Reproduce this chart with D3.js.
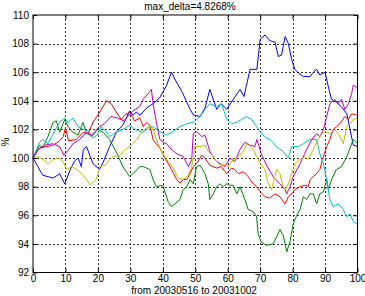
<!DOCTYPE html>
<html><head><meta charset="utf-8">
<script src="https://cdn.jsdelivr.net/npm/d3@7"></script>
<style>body{margin:0;background:#fff}text{font-family:"Liberation Sans",Arial,sans-serif;font-size:10px;fill:#000}</style>
</head><body><svg id="c" width="365" height="296"></svg>
<script>
const title = "max_delta=4.8268%";
const xLabel = "from 20030516 to 20031002";
const yLabel = "%";
const xTicks = [0,10,20,30,40,50,60,70,80,90,100];
const yTicks = [92,94,96,98,100,102,104,106,108,110];
const seriesNames = ["blue","green","red","cyan","magenta","yellow"];
const seriesColors = ["#0000ff","#008000","#ff0000","#00bfbf","#bf00bf","#bfbf00"];

const blue = [[0,100],[1.5,99.4],[3,98.8],[4.6,98.7],[6.2,98.6],[8.2,98.9],[9.8,98.2],[11.3,99.1],[12.8,99.8],[13.9,100],[14.9,99.4],[15.5,100.6],[16.5,100.8],[17.5,100.2],[18.5,99.6],[20.5,99.2],[22,99.9],[23.6,100.8],[25.7,101.8],[27.7,102.3],[29.8,103.3],[30.8,103],[31.8,103.2],[33,103.0],[35,103.5],[37,103.8],[39,104.2],[41,105],[42.7,106],[44,105.4],[46,104.6],[48.4,103.4],[49.5,103],[51.5,102.9],[53,103.5],[54.5,104.8],[56.6,103.4],[58,103.8],[59.7,103.4],[61.7,104.1],[63.8,104.8],[65,104.3],[66.9,106.2],[69,106.2],[70,108.3],[71.5,108.6],[73,108.2],[74.6,108.1],[75.6,107.1],[76.6,107.2],[77.7,108.5],[78.7,108],[79.7,106.9],[80.7,106.2],[82,105.9],[83.3,105.7],[85.4,105.7],[86.4,106],[87.4,106.2],[88.4,105.8],[90,106],[91,105],[92,104.1],[93.5,103.9],[95,103.6],[96.7,103.1],[97.7,102],[98.7,100.9],[100,100.8]];
const green = [[0,100],[2,100.9],[3,100.7],[4.6,101.5],[6.2,102.5],[7.2,102.6],[8.2,101.8],[9.8,102.7],[10.8,102.2],[12.3,101.8],[13.9,101.6],[15.4,102.5],[16.4,101.8],[18,101.5],[20,102],[21.6,101.8],[23.6,101.3],[25.7,100.4],[27.7,99.4],[29.8,98.7],[30.8,98.9],[32.9,99.4],[34,99.4],[36,99.2],[37,98.5],[38,98],[40,98.1],[41.7,96.9],[42.7,96.6],[43.8,96.8],[45.3,97.1],[46.3,97.8],[47.4,98],[48.4,98.5],[49.4,98.2],[50.4,99.4],[51.5,99.5],[53,98.9],[54,98.2],[54.5,97.1],[55.6,97.5],[56.6,98],[57.6,98.2],[58.6,98],[59.7,98.2],[60.7,98.1],[61.7,98.1],[62.8,97.5],[63.8,98],[65.3,97.1],[66.3,96.4],[67.9,96.25],[68.9,95.9],[69.4,94.7],[70.4,94.1],[72,93.9],[74,94],[75.1,94.5],[76.1,95],[77.1,94.6],[78.2,93.45],[79.2,94.15],[80.2,95.4],[81.3,96],[82.3,96.4],[83.3,97.3],[84.3,97.1],[85.4,97.5],[86.4,97.5],[87.4,96.8],[88.4,97.5],[89.5,97.65],[90.5,98.5],[91,97.8],[92,98.5],[93.5,99.2],[95.1,99.4],[96.7,100.1],[97.7,100.7],[98.7,101.3],[100,101]];
const red = [[0,100],[2,100.7],[4,100.8],[6.2,100.9],[8.2,101.2],[9.3,101.5],[10,102.1],[11,101.2],[13.4,101.3],[15.4,101.8],[17,101.7],[18.5,102.5],[20,103],[21.6,103.6],[22.6,104],[24.1,103.8],[25.7,103.2],[27.2,102.7],[28.2,103],[29.8,103.2],[31.3,102.6],[32.9,102.8],[34,102.2],[35,102.5],[36,102.3],[37,101.3],[38,101],[39.1,100.7],[40.7,100],[41.7,99.6],[42.7,99.2],[44.3,98.5],[45.3,98.25],[46.3,98.5],[47.4,98.5],[48.4,98.9],[49.4,99.4],[50.4,99.6],[52,100.2],[53,100],[54.5,99.5],[56.6,99.3],[58,99.4],[59.7,98.9],[61.2,99.3],[62.2,99.2],[63.3,98.9],[64.8,99.05],[66.3,98.7],[67.9,98.2],[68.9,98],[70,97.65],[71.5,97.3],[73,97.2],[74.6,97.5],[76.1,97.3],[77.7,96.8],[78.7,97.3],[79.7,97.5],[80.7,97.8],[82.3,98],[83.8,98.1],[84.8,98],[85.4,98.5],[87.4,98.9],[88.4,99.2],[89.5,100.1],[90.5,100.8],[91.5,101.3],[92.5,102],[93.6,102.2],[94.6,102.4],[96.1,102.9],[97.2,102.7],[98.2,103.1],[100,103]];
const cyan = [[0,100],[2,101.1],[3,101.3],[4.6,101],[6,101.6],[8.2,102.5],[9.8,102.8],[10.8,102.5],[12.3,102.8],[13.9,102.2],[15.4,102],[17,101.9],[18.5,101.4],[19.8,101.6],[21,102.2],[22.3,101.9],[23.6,101.5],[25.7,101.8],[27.7,102],[29.8,102.3],[31.5,102],[33.9,101.8],[35.5,102.1],[37,102.2],[39.1,101.85],[41.2,101.6],[43.2,101.85],[45.3,102.2],[47.4,102.4],[49.4,102.5],[51.5,102.9],[53,103.4],[54.5,103.8],[56.6,103.6],[58.1,103.8],[59.7,102.7],[61.2,102.4],[62.8,102.5],[64.3,102.7],[65.8,102.9],[67.4,102.7],[68.9,102.2],[70.5,101.7],[72,101.4],[73,101.3],[75.1,100.8],[77.1,100.45],[78.7,100],[79.7,100.8],[81.8,100.8],[83.3,101],[85.4,101.3],[87.4,101.3],[88.4,100.3],[89.5,99.6],[90.5,98.5],[91.5,97.1],[92.5,96.6],[94,96.8],[95.6,96.4],[96.7,95.9],[97.7,96.1],[98.7,95.55],[100,95.4]];
const magenta = [[0,100],[1.5,100.6],[3.6,100.9],[6,101],[8.2,100.8],[9.5,100.2],[11,100.6],[12.3,101],[14.4,101.3],[16.4,101.8],[18,101.6],[20.5,102.2],[22,102.4],[24,102.9],[26,102.8],[28,102.6],[30.8,103.3],[32.9,103.6],[33.9,104.1],[35.5,104.5],[36.5,104.8],[37,103.8],[38.1,102.4],[39.1,101.3],[40.2,101.1],[41.2,101],[42.2,100.7],[44.3,100.3],[46.3,100.1],[47.9,99.4],[48.9,99.9],[49.4,101.7],[50.4,101.85],[52,101.5],[53,101.6],[54.5,100.45],[56.6,99.75],[57.6,99.6],[59.2,99.4],[60.7,100],[62.2,99.75],[63.8,100.6],[65.3,101.1],[66.9,100.9],[68.4,100.8],[69,101.3],[70.5,100.2],[72,99.5],[74,98.7],[76.1,98.2],[77.7,97.8],[78.2,97.5],[79.2,98],[80.2,98.7],[82.3,99.6],[84.3,100.6],[85.9,101.3],[87.4,101.7],[88.4,101.5],[89.5,102],[90.5,102.9],[91.5,103.8],[93,104.1],[94,103.8],[95.1,104.1],[96.1,103.4],[97.2,103.8],[98.2,104.5],[98.7,105.1],[100,104.9]];
const yellow = [[0,100],[1.5,100.1],[3.2,99.9],[4.7,99.6],[6.3,99.9],[7.8,100],[9.3,99.75],[10.4,99.2],[12,99.4],[13.5,99.2],[15,98.9],[16.5,98.5],[17.6,98.1],[18.5,98.3],[19.5,98.5],[20.6,99.4],[22.2,99.5],[23.7,99.9],[24.7,100.1],[26.8,100.2],[28.4,100.6],[29.9,100.8],[32,101.3],[33.5,101.85],[35,102.1],[36,102.3],[37,102],[38.5,101],[40.2,100.2],[41.7,99.75],[43,99.4],[44.8,98.6],[46.3,98.5],[47.9,98.8],[48.9,99.4],[49.9,100.8],[51.5,100.8],[53,100.9],[54,100.45],[55.6,100.1],[56.6,99.75],[57.6,99.5],[58.6,99.6],[60.2,99.4],[61.7,99.9],[63.3,100.1],[64.8,100.45],[65.9,101],[66.9,100.8],[67.9,100.6],[68.9,100.1],[70,99.6],[71.5,99.2],[72.5,98.25],[73.5,97.8],[75.1,99.2],[76.1,98.9],[77.1,98],[77.7,97.8],[78.7,98.2],[79.7,98.9],[80.7,99.6],[82.3,99.9],[83.8,100.1],[84.8,99.9],[86.4,100.6],[87.9,101.3],[89,101.7],[90,101.85],[91.5,101.7],[93,102],[94.6,101.5],[95.6,101],[96.7,102.2],[97.7,102.4],[98.7,102.7],[100,102.8]];
const seriesData = [blue, green, red, cyan, magenta, yellow];

const svg = d3.select("#c");
const L = 33, R = 357.5, T = 15, B = 272.5;
const x = d3.scaleLinear().domain([0,100]).range([L,R]);
const y = d3.scaleLinear().domain([92,110]).range([B,T]);

svg.append("rect").attr("width",365).attr("height",296).attr("fill","#fff");

// grid
const g = svg.append("g");
g.selectAll(".gx").data(xTicks.slice(1,-1)).enter().append("line")
  .attr("x1",d=>Math.round(x(d))+0.5).attr("x2",d=>Math.round(x(d))+0.5)
  .attr("y1",T).attr("y2",B).attr("stroke","#000").attr("stroke-width",1).attr("stroke-dasharray","2,2").attr("opacity",0.8);
g.selectAll(".gy").data(yTicks.slice(1,-1)).enter().append("line")
  .attr("y1",d=>Math.round(y(d))+0.5).attr("y2",d=>Math.round(y(d))+0.5)
  .attr("x1",L).attr("x2",R).attr("stroke","#000").attr("stroke-width",1).attr("stroke-dasharray","2,2").attr("opacity",0.8);

// lines
const line = d3.line().x(d=>x(d[0])).y(d=>y(d[1]));
svg.append("g").selectAll("path").data(seriesData).enter().append("path")
  .attr("d",line).attr("fill","none").attr("stroke",(d,i)=>seriesColors[i]).attr("stroke-width",1);

// axes
const xa = svg.append("g").attr("transform",`translate(0,${B})`)
  .call(d3.axisBottom(x).tickValues(xTicks).tickSize(-4).tickPadding(2.5).tickFormat(d3.format("d")));
const xt = svg.append("g").attr("transform",`translate(0,${T})`)
  .call(d3.axisTop(x).tickValues(xTicks).tickSize(-4).tickFormat(""));
const ya = svg.append("g").attr("transform",`translate(${L},0)`)
  .call(d3.axisLeft(y).tickValues(yTicks).tickSize(-4).tickPadding(4).tickFormat(d3.format("d")));
const yr = svg.append("g").attr("transform",`translate(${R},0)`)
  .call(d3.axisRight(y).tickValues(yTicks).tickSize(-4).tickFormat(""));
[xa,xt,ya,yr].forEach(a=>{a.select(".domain").remove();a.selectAll("line").attr("stroke","#000");a.selectAll("text").style("font-size","10px").attr("fill","#000").style("font-family","'Liberation Sans',Arial,sans-serif");});
svg.append("rect").attr("x",L).attr("y",T).attr("width",R-L).attr("height",B-T).attr("fill","none").attr("stroke","#000").attr("stroke-width",1);

svg.append("text").attr("x",190).attr("y",10).attr("text-anchor","middle").text(title);
svg.append("text").attr("x",194).attr("y",294).attr("text-anchor","middle").text(xLabel);
svg.append("text").attr("transform","translate(9,142) rotate(-90)").attr("text-anchor","middle").text(yLabel);
</script></body></html>
